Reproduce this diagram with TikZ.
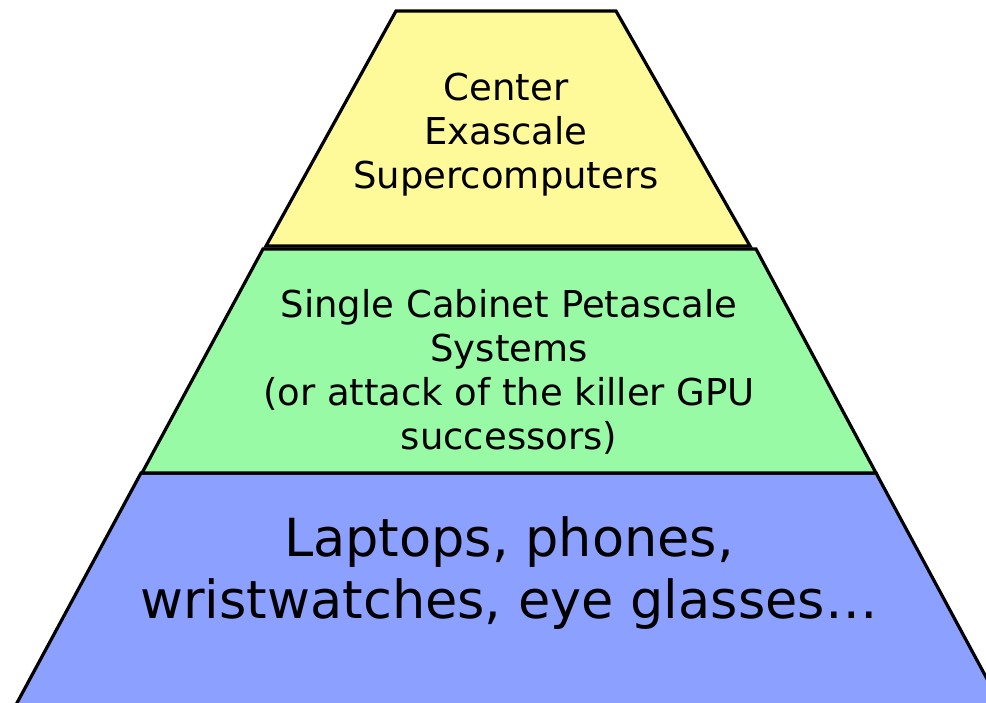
\documentclass[tikz,border=0pt]{standalone}
\usepackage{fontspec}
\setmainfont{DejaVu Sans}
\definecolor{tieryellow}{RGB}{255,250,153}
\definecolor{tiergreen}{RGB}{153,250,166}
\definecolor{tierblue}{RGB}{140,160,255}
\begin{document}
\begin{tikzpicture}[x=1pt,y=-1pt,
  tier/.style={draw=black,line width=3.2pt,line join=miter},
  tiertext/.style={align=center,inner sep=0pt,text=black},
  smalltxt/.style={font=\fontsize{37}{44}\selectfont},
  bigtxt/.style={font=\fontsize{52.5}{62}\selectfont}]
\useasboundingbox (0,0) rectangle (986,702);
\clip (0,0) rectangle (986,702);
% bottom tier
\filldraw[tier,fill=tierblue] (141,473) -- (876,473) -- (1020,740) -- (-3,740) -- cycle;
% middle tier
\filldraw[tier,fill=tiergreen] (263,249) -- (756,249) -- (876,473) -- (142,473) -- cycle;
% top tier
\filldraw[tier,fill=tieryellow] (396,11) -- (616,11) -- (750,246) -- (266,246) -- cycle;
\node[tiertext,smalltxt] (top) at (506,135) {Center\\Exascale\\Supercomputers};
\node[tiertext,smalltxt] (mid) at (509,372) {Single Cabinet Petascale\\Systems\\(or attack of the killer GPU\\successors)};
\node[tiertext,bigtxt] (bot) at (509,573) {Laptops, phones,\\wristwatches, eye glasses…};
\end{tikzpicture}
\end{document}
